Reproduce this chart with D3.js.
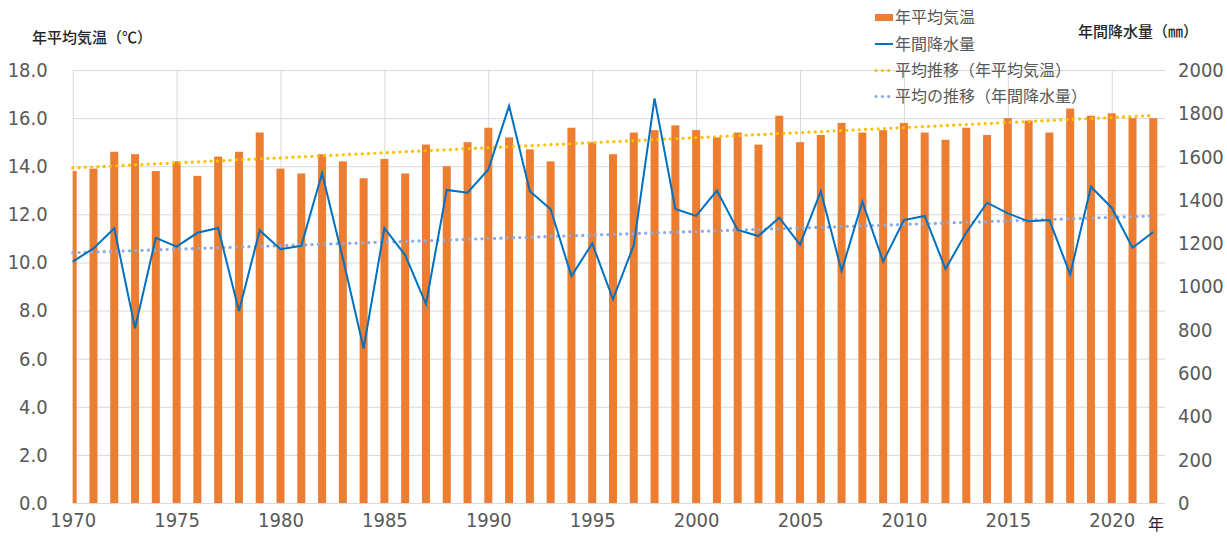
<!DOCTYPE html>
<html>
<head>
<meta charset="utf-8">
<script src="https://cdn.jsdelivr.net/npm/d3@7/dist/d3.min.js"></script>
<style>
  body { margin: 0; background: #fff; }
  svg { display: block; }
  .num { font-family: "Liberation Sans Narrow", "DejaVu Sans Condensed", "Roboto", sans-serif; font-stretch: condensed; font-size: 20px; fill: #595959; }
  .jp { font-family: "Noto Sans CJK JP", sans-serif; }
</style>
</head>
<body>
<div id="chart"></div>
<script>
// categories
var years = [1970, 1971, 1972, 1973, 1974, 1975, 1976, 1977, 1978, 1979,
  1980, 1981, 1982, 1983, 1984, 1985, 1986, 1987, 1988, 1989,
  1990, 1991, 1992, 1993, 1994, 1995, 1996, 1997, 1998, 1999,
  2000, 2001, 2002, 2003, 2004, 2005, 2006, 2007, 2008, 2009,
  2010, 2011, 2012, 2013, 2014, 2015, 2016, 2017, 2018, 2019,
  2020, 2021, 2022];

// 年平均気温 (℃)
var tempValues = [13.8, 13.9, 14.6, 14.5, 13.8, 14.2, 13.6, 14.4, 14.6, 15.4,
  13.9, 13.7, 14.5, 14.2, 13.5, 14.3, 13.7, 14.9, 14.0, 15.0,
  15.6, 15.2, 14.7, 14.2, 15.6, 15.0, 14.5, 15.4, 15.5, 15.7,
  15.5, 15.2, 15.4, 14.9, 16.1, 15.0, 15.3, 15.8, 15.4, 15.5,
  15.8, 15.4, 15.1, 15.6, 15.3, 16.0, 15.9, 15.4, 16.4, 16.1,
  16.2, 16.0, 16.0];

// 年間降水量 (mm)
var rainValues = [1115, 1176, 1269, 807, 1225, 1184, 1248, 1270, 887, 1259,
  1172, 1188, 1523, 1130, 714, 1270, 1145, 919, 1446, 1433,
  1541, 1834, 1440, 1357, 1048, 1199, 941, 1192, 1869, 1358,
  1326, 1443, 1261, 1233, 1318, 1193, 1440, 1072, 1392, 1115,
  1307, 1326, 1081, 1249, 1387, 1338, 1301, 1307, 1056, 1461,
  1364, 1179, 1252];

// trend lines (end points)
var trendYears = [1970, 2022];
var tempTrend = [13.93, 16.11];
var rainTrend = [1156, 1326];

var tempTicks = [0, 2, 4, 6, 8, 10, 12, 14, 16, 18];
var rainTicks = [0, 200, 400, 600, 800, 1000, 1200, 1400, 1600, 1800, 2000];
var yearTicks = [1970, 1975, 1980, 1985, 1990, 1995, 2000, 2005, 2010, 2015, 2020];

var legendNames = ['年平均気温', '年間降水量', '平均推移（年平均気温）', '平均の推移（年間降水量）'];

var width = 1227, height = 537;
var plot = { left: 72.7, right: 1165, top: 70, bottom: 503 };

var svg = d3.select('#chart').append('svg')
  .attr('width', width)
  .attr('height', height);

var x = d3.scaleLinear().domain([1970, 2022]).range([72.7, 1153.3]);
var yLeft = d3.scaleLinear().domain([0, 18]).range([plot.bottom, plot.top]);
var yRight = d3.scaleLinear().domain([0, 2000]).range([plot.bottom, plot.top]);

var gridColor = '#d9d9d9';

// horizontal grid
var hGrid = svg.append('g')
  .attr('transform', 'translate(' + plot.left + ',0)')
  .call(d3.axisLeft(yLeft).tickValues(tempTicks).tickSize(-(plot.right - plot.left)).tickFormat(''));
hGrid.select('.domain').remove();
hGrid.selectAll('line').attr('stroke', gridColor).attr('stroke-width', 1);

// vertical grid
var vGrid = svg.append('g')
  .attr('transform', 'translate(0,' + plot.bottom + ')')
  .call(d3.axisBottom(x).tickValues(yearTicks).tickSize(-(plot.bottom - plot.top)).tickFormat(''));
vGrid.select('.domain').remove();
vGrid.selectAll('line').attr('stroke', gridColor).attr('stroke-width', 1);

svg.append('clipPath').attr('id', 'plot-clip')
  .append('rect')
  .attr('x', plot.left)
  .attr('y', plot.top - 5)
  .attr('width', plot.right - plot.left)
  .attr('height', plot.bottom - plot.top + 5);

var barWidth = 8;
svg.append('g')
  .attr('clip-path', 'url(#plot-clip)')
  .selectAll('rect')
  .data(tempValues)
  .enter()
  .append('rect')
  .attr('x', function(d, i) { return x(years[i]) - barWidth / 2; })
  .attr('y', function(d) { return yLeft(d); })
  .attr('width', barWidth)
  .attr('height', function(d) { return yLeft(0) - yLeft(d); })
  .attr('fill', '#ed7d31');

// trend lines
var trendLine = function(scale, values) {
  return d3.line()
    .x(function(d, i) { return x(trendYears[i]); })
    .y(function(d) { return scale(d); })(values);
};

svg.append('path')
  .attr('d', trendLine(yLeft, tempTrend))
  .attr('fill', 'none')
  .attr('stroke', '#ffc000')
  .attr('stroke-width', 3.2)
  .attr('stroke-linecap', 'round')
  .attr('stroke-dasharray', '0.1 6.2');

svg.append('path')
  .attr('d', trendLine(yRight, rainTrend))
  .attr('fill', 'none')
  .attr('stroke', '#8faadc')
  .attr('stroke-width', 3.2)
  .attr('stroke-linecap', 'round')
  .attr('stroke-dasharray', '0.1 6.2');

// rain line
var rainLine = d3.line()
  .x(function(d, i) { return x(years[i]); })
  .y(function(d) { return yRight(d); });

svg.append('path')
  .datum(rainValues)
  .attr('d', rainLine)
  .attr('fill', 'none')
  .attr('stroke', '#0070c0')
  .attr('stroke-width', 2)
  .attr('stroke-linejoin', 'miter');

// left axis labels
var leftAxis = svg.append('g')
  .attr('transform', 'translate(' + plot.left + ',0)')
  .call(d3.axisLeft(yLeft).tickValues(tempTicks).tickSize(0).tickPadding(25).tickFormat(d3.format('.1f')));
leftAxis.select('.domain').remove();
leftAxis.selectAll('text').attr('class', 'num').attr('font-family', null).attr('font-size', null).attr('fill', null);

// right axis labels
var rightAxis = svg.append('g')
  .attr('transform', 'translate(' + plot.right + ',0)')
  .call(d3.axisRight(yRight).tickValues(rainTicks).tickSize(0).tickPadding(13).tickFormat(d3.format('d')));
rightAxis.select('.domain').remove();
rightAxis.selectAll('text').attr('class', 'num').attr('font-family', null).attr('font-size', null).attr('fill', null);

// bottom axis labels
var bottomAxis = svg.append('g')
  .attr('transform', 'translate(0,' + plot.bottom + ')')
  .call(d3.axisBottom(x).tickValues(yearTicks).tickSize(0).tickPadding(10).tickFormat(d3.format('d')));
bottomAxis.select('.domain').remove();
bottomAxis.selectAll('text').attr('class', 'num').attr('font-family', null).attr('font-size', null).attr('fill', null);

// axis titles
svg.append('text').attr('class', 'jp')
  .attr('x', 32).attr('y', 43)
  .attr('font-size', 15).attr('font-weight', 500).attr('fill', '#262626')
  .text('年平均気温（℃）');

svg.append('text').attr('class', 'jp')
  .attr('x', 1078).attr('y', 37)
  .attr('font-size', 15).attr('font-weight', 500).attr('fill', '#262626')
  .text('年間降水量（㎜）');

svg.append('text').attr('class', 'jp')
  .attr('x', 1148).attr('y', 530)
  .attr('font-size', 16).attr('fill', '#262626')
  .text('年');

// legend
var legend = svg.append('g').attr('transform', 'translate(875,0)');
var legendY = [17.5, 44, 70.5, 96.5];

legend.append('rect')
  .attr('x', 0).attr('y', legendY[0] - 3.5)
  .attr('width', 18).attr('height', 7)
  .attr('fill', '#ed7d31');

legend.append('line')
  .attr('x1', 0).attr('x2', 18)
  .attr('y1', legendY[1]).attr('y2', legendY[1])
  .attr('stroke', '#0070c0').attr('stroke-width', 2);

legend.append('line')
  .attr('x1', 1).attr('x2', 19)
  .attr('y1', legendY[2]).attr('y2', legendY[2])
  .attr('stroke', '#ffc000').attr('stroke-width', 3.2)
  .attr('stroke-linecap', 'round').attr('stroke-dasharray', '0.1 6.2');

legend.append('line')
  .attr('x1', 1).attr('x2', 19)
  .attr('y1', legendY[3]).attr('y2', legendY[3])
  .attr('stroke', '#8faadc').attr('stroke-width', 3.2)
  .attr('stroke-linecap', 'round').attr('stroke-dasharray', '0.1 6.2');

legend.selectAll('text.leg')
  .data(legendNames)
  .enter()
  .append('text')
  .attr('class', 'jp leg')
  .attr('x', 20)
  .attr('y', function(d, i) { return legendY[i]; })
  .attr('dy', '0.36em')
  .attr('font-size', 16)
  .attr('fill', '#595959')
  .text(function(d) { return d; });
</script>
</body>
</html>
